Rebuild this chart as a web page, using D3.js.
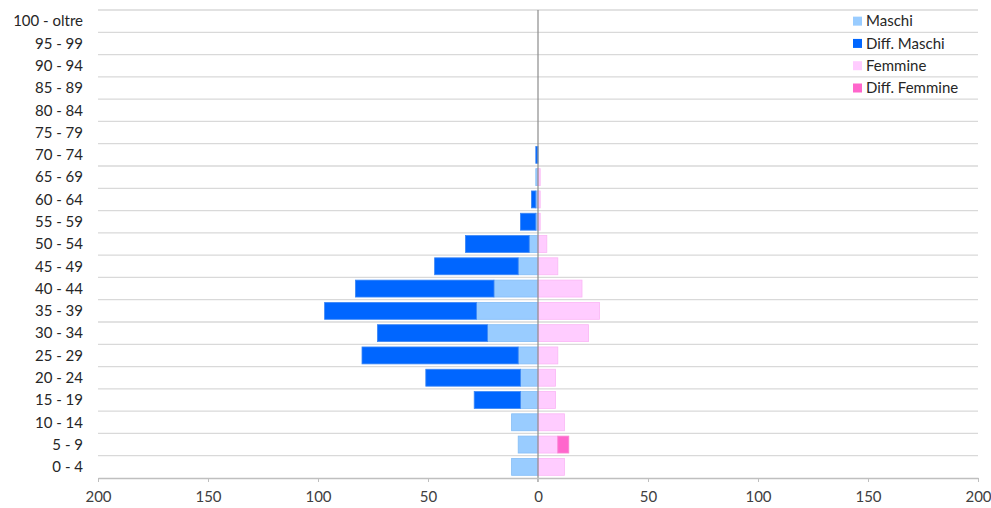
<!DOCTYPE html>
<html>
<head>
<meta charset="utf-8">
<script src="https://cdn.jsdelivr.net/npm/d3@7"></script>
<style>
  body { margin: 0; background: #fff; }
  svg { display: block; font-family: Lato, "Noto Sans", sans-serif; }
</style>
</head>
<body>
<div id="app"></div>
<script>
// age classes, bottom to top
const classi = ['0 - 4','5 - 9','10 - 14','15 - 19','20 - 24','25 - 29','30 - 34','35 - 39','40 - 44','45 - 49',
  '50 - 54','55 - 59','60 - 64','65 - 69','70 - 74','75 - 79','80 - 84','85 - 89','90 - 94','95 - 99','100 - oltre']
const maschi      = [12, 9, 12, 8, 8, 9, 23, 28, 20, 9, 4, 1, 1, 1, 0, 0, 0, 0, 0, 0, 0]
const diffMaschi  = [0, 0, 0, 21, 43, 71, 50, 69, 63, 38, 29, 7, 2, 0, 1, 0, 0, 0, 0, 0, 0]
const femmine     = [12, 9, 12, 8, 8, 9, 23, 28, 20, 9, 4, 1, 1, 1, 0, 0, 0, 0, 0, 0, 0]
const diffFemmine = [0, 5, 0, 0, 0, 0, 0, 0, 0, 0, 0, 0, 0, 0, 0, 0, 0, 0, 0, 0, 0]
const xTicks = [-200, -150, -100, -50, 0, 50, 100, 150, 200]

const serie = [
  {name: 'Maschi', color: '#99ccff', stroke: '#85bdf5'},
  {name: 'Diff. Maschi', color: '#0066ff', stroke: '#3d87f5'},
  {name: 'Femmine', color: '#ffccff', stroke: '#fbb6f5'},
  {name: 'Diff. Femmine', color: '#ff66cc', stroke: '#fb85d5'}
]

const W = 991, H = 508
const mLeft = 98, mRight = 978, mTop = 10, mBottom = 478
const fs = 15

const svg = d3.select('#app').append('svg').attr('width', W).attr('height', H)

const x = d3.scaleLinear().domain([-200, 200]).range([mLeft, mRight])
const y = d3.scaleBand().domain(classi.slice().reverse()).range([mTop, mBottom]).paddingInner(0.24).paddingOuter(0.12)
const band = (mBottom - mTop) / classi.length

// gridlines at band edges
const edges = d3.range(classi.length).map(i => mTop + i * band)
svg.append('g').selectAll('line').data(edges).enter().append('line')
  .attr('x1', mLeft).attr('x2', mRight)
  .attr('y1', d => d).attr('y2', d => d)
  .attr('stroke', '#d9d9d9').attr('stroke-width', 1.3)

// bars: stacked outwards from zero
const rows = classi.map((c, i) => ({c, m: maschi[i], dm: diffMaschi[i], f: femmine[i], df: diffFemmine[i]}))
const segs = []
rows.forEach(r => {
  if (r.m) segs.push({c: r.c, a: 0, b: -r.m, s: serie[0]})
  if (r.dm) segs.push({c: r.c, a: -r.m, b: -r.m - r.dm, s: serie[1]})
  if (r.f) segs.push({c: r.c, a: 0, b: r.f, s: serie[2]})
  if (r.df) segs.push({c: r.c, a: r.f, b: r.f + r.df, s: serie[3]})
})
svg.append('g').selectAll('rect').data(segs).enter().append('rect')
  .attr('x', d => x(Math.min(d.a, d.b)))
  .attr('width', d => Math.abs(x(d.b) - x(d.a)))
  .attr('y', d => y(d.c))
  .attr('height', y.bandwidth())
  .attr('fill', d => d.s.color)
  .attr('stroke', d => d.s.stroke).attr('stroke-width', 0.8)

// zero line
svg.append('line')
  .attr('x1', x(0)).attr('x2', x(0)).attr('y1', mTop).attr('y2', mBottom + 4)
  .attr('stroke', '#8c8c8c').attr('stroke-width', 1.2)

// x axis
const xAxis = svg.append('g').attr('transform', `translate(0,${mBottom})`)
  .call(d3.axisBottom(x).tickValues(xTicks).tickFormat(d => Math.abs(d)).tickSizeInner(4).tickSizeOuter(0).tickPadding(9))
xAxis.select('.domain').attr('stroke', '#bfbfbf').attr('stroke-width', 1.3)
xAxis.selectAll('.tick line').attr('stroke', '#bfbfbf')
xAxis.selectAll('.tick text').attr('font-size', fs).attr('fill', '#404040').style('font-family', 'Lato, "Noto Sans", sans-serif')

// y labels
svg.append('g').selectAll('text').data(classi).enter().append('text')
  .attr('x', mLeft - 15)
  .attr('y', d => y(d) + y.bandwidth() / 2)
  .attr('dy', '0.35em')
  .attr('text-anchor', 'end')
  .attr('font-size', fs)
  .attr('fill', '#262626')
  .text(d => d)

// legend
const lg = svg.append('g').selectAll('g').data(serie).enter().append('g')
  .attr('transform', (d, i) => `translate(853,${mTop + band * (i + 0.5)})`)
lg.append('rect').attr('x', 0).attr('y', -4.5).attr('width', 9).attr('height', 9).attr('fill', d => d.color)
lg.append('text').attr('x', 13).attr('dy', '0.35em').attr('font-size', fs).attr('fill', '#262626').text(d => d.name)
</script>
</body>
</html>
